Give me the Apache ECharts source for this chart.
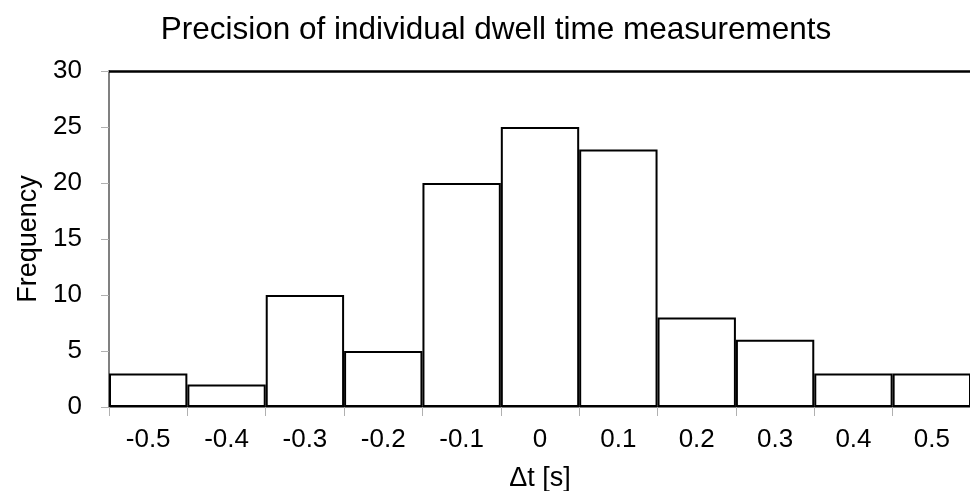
<!DOCTYPE html>
<html>
<head>
<meta charset="utf-8">
<script src="https://cdn.jsdelivr.net/npm/echarts@6/dist/echarts.min.js"></script>
<style>
html,body{margin:0;padding:0;background:#fff;}
#chart{width:970px;height:491px;}
</style>
</head>
<body>
<div id="chart"></div>
<script>
var categories = ['-0.5','-0.4','-0.3','-0.2','-0.1','0','0.1','0.2','0.3','0.4','0.5'];
var frequency = [3, 2, 10, 5, 20, 25, 23, 8, 6, 3, 3];
var yTicks = [0, 5, 10, 15, 20, 25, 30];

var chart = echarts.init(document.getElementById('chart'), null, {renderer:'canvas'});
var font = 'Liberation Sans, Arial, sans-serif';
chart.setOption({
  animation: false,
  backgroundColor: '#fff',
  title: {
    text: 'Precision of individual dwell time measurements',
    left: 491, top: 9, textAlign: 'center',
    textStyle: {fontFamily: font, fontWeight: 'normal', fontSize: 31.5, color: '#000'}
  },
  grid: {left: 109, top: 71, width: 862, height: 336, containLabel: false, outerBoundsMode: 'none'},
  xAxis: {
    type: 'category',
    data: categories,
    name: 'Δt [s]',
    nameLocation: 'middle',
    nameGap: 58,
    nameTextStyle: {fontFamily: font, fontSize: 27, color: '#000'},
    axisLine: {lineStyle: {color: '#808080', width: 2}},
    axisTick: {show: true, alignWithLabel: false, length: 9, lineStyle: {color: '#b0b0b0', width: 1}},
    axisLabel: {fontFamily: font, fontSize: 26, color: '#000', margin: 20, interval: 0},
    splitLine: {show: false}
  },
  yAxis: {
    type: 'value',
    min: yTicks[0], max: yTicks[yTicks.length-1], interval: 5,
    name: 'Frequency',
    nameLocation: 'middle',
    nameGap: 67,
    nameTextStyle: {fontFamily: font, fontSize: 27, color: '#000'},
    axisLine: {show: true, lineStyle: {color: '#808080', width: 2}},
    axisTick: {show: true, length: 8, lineStyle: {color: '#b0b0b0', width: 1}},
    axisLabel: {fontFamily: font, fontSize: 26, color: '#000', margin: 27},
    splitLine: {show: false}
  },
  series: [{
    type: 'bar',
    data: frequency,
    barWidth: '100%',
    barGap: '0%',
    itemStyle: {color: '#fff', borderColor: '#000', borderWidth: 2},
    z: 1
  }, {
    type: 'line',
    data: [],
    markLine: {
      silent: true, symbol: 'none', label: {show: false},
      lineStyle: {color: '#000', width: 2.5, type: 'solid'},
      data: [{yAxis: yTicks[yTicks.length-1]}]
    }
  }]
});
</script>
</body>
</html>
